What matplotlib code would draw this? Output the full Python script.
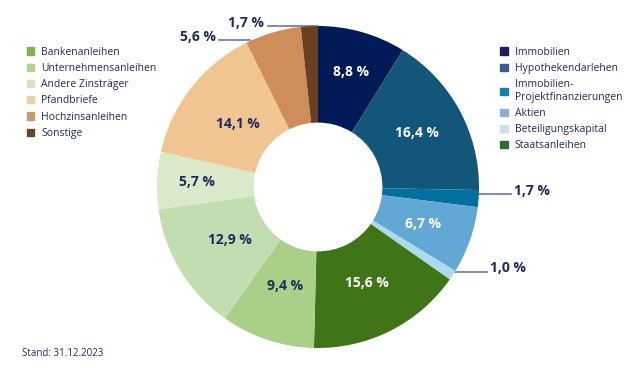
import numpy as np
import matplotlib.pyplot as plt
from matplotlib.patches import Patch

# Portfolio breakdown, clockwise from 12 o'clock
categories = [
    "Immobilien", "Hypothekendarlehen", "Immobilien-\nProjektfinanzierungen",
    "Aktien", "Beteiligungskapital", "Staatsanleihen",
    "Bankenanleihen", "Unternehmensanleihen", "Andere Zinsträger",
    "Pfandbriefe", "Hochzinsanleihen", "Sonstige",
]
shares = [8.8, 16.4, 1.7, 6.7, 1.0, 15.6, 9.4, 12.9, 5.7, 14.1, 5.6, 1.7]

slice_colors = [
    "#001a57", "#12567a", "#00709e", "#62a8d4", "#acd9ee", "#3f7417",
    "#aacf88", "#c2ddb0", "#d9e9c9", "#f1c592", "#cf8d5c", "#6b3f22",
]
legend_colors = [
    "#1b1f5e", "#3b5d8e", "#1a7ea8", "#8daed6", "#cfdff0", "#2b6e35",
    "#7cb35a", "#b0d48c", "#d3e6c4", "#ecd1a4", "#c89a6e", "#6b4424",
]
text_white = {0, 1, 3, 5}
# radial position of the inside labels (fraction of outer radius)
label_pos = {0: 0.74, 1: 0.70, 3: 0.69, 5: 0.67, 6: 0.65, 7: 0.64, 8: 0.75, 9: 0.63}

NAVY = "#1f2a5c"
plt.rcParams["font.family"] = ["Open Sans", "DejaVu Sans"]

fig = plt.figure(figsize=(6.4, 3.74), dpi=100)
ax = fig.add_axes([0, 0, 1, 1])

cx, cy, r = 318, 187, 161
wedges, _ = ax.pie(
    shares, colors=slice_colors, startangle=90, counterclock=False,
    center=(cx, cy), radius=r, wedgeprops=dict(width=r * 0.6, linewidth=0),
    frame=True,
)
ax.set_xlim(0, 640)
ax.set_ylim(0, 374)
ax.set_aspect("equal")
ax.axis("off")


def fmt(v):
    return f"{v:.1f} %".replace(".", ",")


for i, (w, v) in enumerate(zip(wedges, shares)):
    if i not in label_pos:
        continue
    ang = np.deg2rad((w.theta1 + w.theta2) / 2)
    x = cx + label_pos[i] * r * np.cos(ang)
    y = cy + label_pos[i] * r * np.sin(ang)
    ax.text(x, y, fmt(v), ha="center", va="center", fontsize=10, fontweight="bold",
            color="white" if i in text_white else NAVY)

# callout labels for thin slices: (line x0, line x1, line y, text x, text y, align)
callouts = {
    2: (479, 511, 180, 514, 183, "left"),
    4: (455, 487, 102, 490, 106, "left"),
    10: (250, 219, 334, 216, 337, "right"),
    11: (317, 268, 348, 264, 351, "right"),
}
for i, (x0, x1, ly, tx, ty, ha) in callouts.items():
    ax.plot([x0, x1], [ly, ly], color="#7a80a8", lw=1.3, zorder=0.5)
    ax.text(tx, ty, fmt(shares[i]), ha=ha, va="center", fontsize=10,
            fontweight="bold", color=NAVY)

right = [Patch(color=c, label=l) for c, l in zip(legend_colors[:6], categories[:6])]
left = [Patch(color=c, label=l) for c, l in zip(legend_colors[6:], categories[6:])]
leg_kw = dict(frameon=False, fontsize=7.5, handlelength=0.7, handleheight=0.7,
              handletextpad=0.7, labelspacing=0.5, labelcolor=NAVY)
leg1 = ax.legend(handles=left, loc="upper left", bbox_to_anchor=(0.027, 0.9), **leg_kw)
ax.add_artist(leg1)
ax.legend(handles=right, loc="upper left", bbox_to_anchor=(0.767, 0.9), **leg_kw)

ax.text(22, 21, "Stand: 31.12.2023", fontsize=7, color=NAVY, ha="left", va="center")

fig.savefig("out.png", dpi=100)
